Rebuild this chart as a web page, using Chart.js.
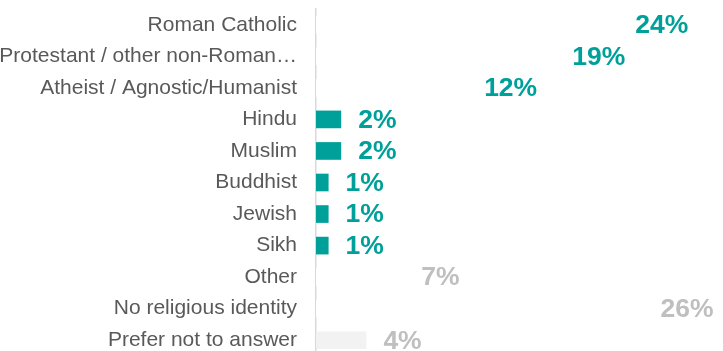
<!DOCTYPE html>
<html>
<head>
<meta charset="utf-8">
<script src="https://cdn.jsdelivr.net/npm/chart.js@4"></script>
<style>
  html, body { margin: 0; padding: 0; background: #fff; overflow: hidden; }
  #wrap { width: 723px; height: 356px; }
</style>
</head>
<body>
<div id="wrap"><canvas id="religionChart" width="723" height="356"></canvas></div>
<script>
const categories = [
    'Roman Catholic',
    'Protestant / other non-Roman\u2026',
    'Atheist / Agnostic/Humanist',
    'Hindu',
    'Muslim',
    'Buddhist',
    'Jewish',
    'Sikh',
    'Other',
    'No religious identity',
    'Prefer not to answer'
];
const shares = [24, 19, 12, 2, 2, 1, 1, 1, 7, 26, 4];

const TEAL = '#00A09A';
const GREY_TEXT = '#BFBFBF';
const barColors = ['#FFFFFF', '#FFFFFF', '#FFFFFF', TEAL, TEAL, TEAL, TEAL, TEAL, '#FFFFFF', '#FFFFFF', '#F2F2F2'];
const labelColors = [TEAL, TEAL, TEAL, TEAL, TEAL, TEAL, TEAL, TEAL, GREY_TEXT, GREY_TEXT, GREY_TEXT];

// writes "NN%" just past the end of each bar
const valueLabels = {
    id: 'valueLabels',
    afterDatasetsDraw(chart) {
        let ctx = chart.ctx;
        let meta = chart.getDatasetMeta(0);
        ctx.save();
        ctx.font = 'bold 26.5px "Liberation Sans", Arial, sans-serif';
        ctx.textAlign = 'left';
        ctx.textBaseline = 'middle';
        meta.data.forEach((bar, i) => {
            ctx.fillStyle = labelColors[i];
            ctx.fillText(shares[i] + '%', bar.x + 17, bar.y + 1);
        });
        ctx.restore();
    }
};

new Chart(document.getElementById('religionChart'), {
    type: 'bar',
    data: {
        labels: categories,
        datasets: [{
            data: shares,
            backgroundColor: barColors,
            borderWidth: 0,
            barPercentage: 0.56,
            categoryPercentage: 1
        }]
    },
    options: {
        indexAxis: 'y',
        responsive: false,
        animation: false,
        devicePixelRatio: 1,
        layout: { padding: { top: 9, right: 4, bottom: 0, left: 0 } },
        plugins: {
            legend: { display: false },
            tooltip: { enabled: false }
        },
        scales: {
            x: {
                display: false,
                min: 0,
                max: 32
            },
            y: {
                afterFit(scale) {
                    // fixed label column, and no extra room above/below the rows
                    scale.width = 316;
                    scale.paddingTop = 0;
                    scale.paddingBottom = 0;
                },
                grid: { display: false, drawTicks: false },
                border: { display: true, color: '#D9D9D9', width: 1.5 },
                ticks: {
                    padding: 19,
                    color: '#595959',
                    font: { family: '"Liberation Sans", Arial, sans-serif', size: 21 }
                }
            }
        }
    },
    plugins: [valueLabels]
});
</script>
</body>
</html>
